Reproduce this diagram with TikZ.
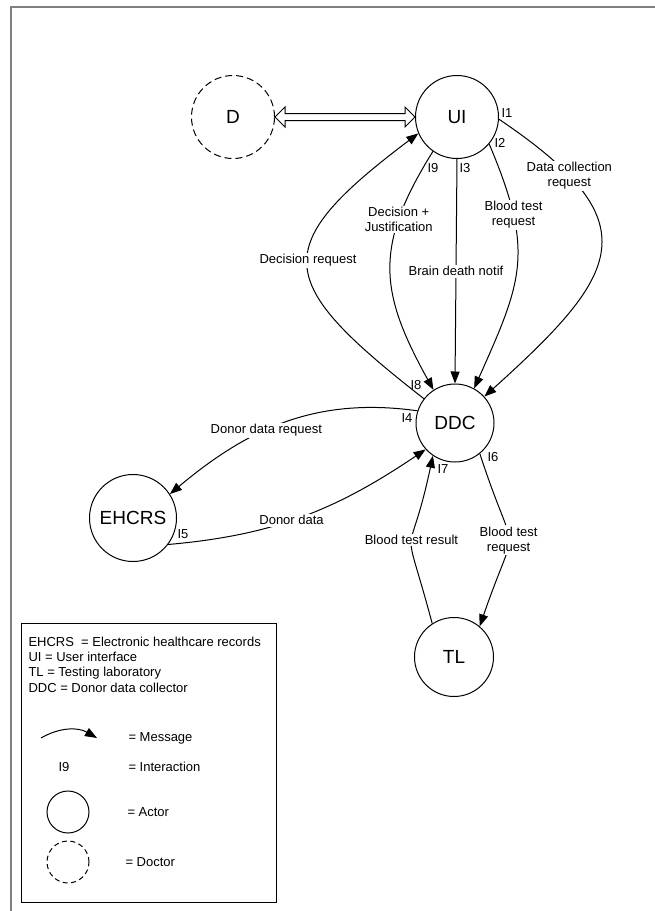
\documentclass[tikz,border=0pt]{standalone}
\usepackage{fontspec}
\setmainfont{Liberation Sans}
\usetikzlibrary{arrows.meta,calc}

\begin{document}
\begin{tikzpicture}[
    x=1pt, y=1pt,
    line width=1pt,
    every node/.append style = {font=\fontsize{13}{15}\selectfont},
    actor/.style = {draw, circle, inner sep=0pt, font=\fontsize{19}{22}\selectfont},
    doctor/.style = {actor, dash pattern=on 7pt off 4pt},
    msg/.style = {-{Triangle[length=12pt,width=9pt]}},
    lbl/.style = {fill=white, inner sep=1.5pt, align=center},
    legtext/.style = {anchor=base west, inner sep=0pt},
  ]
  \begin{scope}
    %%+++++++++++++++++++++++++
    % Variables
    % Head of the double arrow
    \pgfmathsetmacro{\Lhead}{10}
    \pgfmathsetmacro{\Whead}{10}
    \pgfmathsetmacro{\Wshaft}{3.5}
    %%+++++++++++++++++++++++++
    % Drawing
    % Frame
    \useasboundingbox (0,0) rectangle (655,-911);
    \draw[gray, line width=2pt] (11,-911) -- (11,-7) -- (655,-7);
    % Actors
    \node[doctor, minimum size=83pt] (D) at (233,-117) {D};
    \node[actor, minimum size=83pt] (UI) at (457,-117) {UI};
    \node[actor, minimum size=78pt] (DDC) at (455,-423) {DDC};
    \node[actor, minimum size=87pt] (EHCRS) at (133,-518) {EHCRS};
    \node[actor, minimum size=79pt] (TL) at (454,-657) {TL};
    % Doctor <-> UI
    \draw (D.east) -- ++(\Lhead,\Whead) -- ++(0,-\Whead+\Wshaft)
      -- ($(UI.west)+(-\Lhead,\Wshaft)$) -- ++(0,\Whead-\Wshaft) -- (UI.west)
      -- ++(-\Lhead,-\Whead) -- ++(0,\Whead-\Wshaft)
      -- ($(D.east)+(\Lhead,-\Wshaft)$) -- ++(0,-\Whead+\Wshaft) -- cycle;
    % UI -> DDC
    \draw[msg] (UI.-3) to[out=-34, in=42, looseness=1.7]
      node[lbl, pos=0.2] (lDataReq) {Data collection\\request} (DDC.42);
    \draw[msg] (UI.-40) to[out=-67, in=66, looseness=1.23]
      node[lbl, pos=0.26] (lBloodReqA) {Blood test\\request} (DDC.61);
    \draw[msg] (UI.south) -- node[lbl] (lBrain) {Brain death notif} (DDC.north);
    \draw[msg] (UI.-125) to[out=-122, in=119, looseness=1.2]
      node[lbl, pos=0.27] (lDecision) {Decision +\\Justification} (DDC.123);
    % DDC -> UI
    \draw[msg] (DDC.142) to[out=142, in=-143, looseness=1.83]
      node[lbl, pos=0.52] (lDecReq) {Decision request} (UI.-157);
    % DDC <-> EHCRS
    \draw[msg] (DDC.162) to[out=172, in=40]
      node[lbl, pos=0.58] (lDonorReq) {Donor data request} (EHCRS.33);
    \draw[msg] (EHCRS.-37) to[out=5, in=-146]
      node[lbl, pos=0.45] (lDonor) {Donor data} (DDC.-138);
    % DDC <-> TL
    \draw[msg] (DDC.-51) to[out=-72, in=71, looseness=1.8]
      node[lbl, pos=0.5] (lBloodReqB) {Blood test\\request} (TL.50);
    \draw[msg] (TL.123) to[out=105, in=-102, looseness=1.84]
      node[lbl, pos=0.5] (lBloodRes) {Blood test result} (DDC.-124);
    % Interactions
    \node (i1) at (507,-113) {I1};
    \node (i2) at (500,-143) {I2};
    \node (i3) at (465,-168) {I3};
    \node (i9) at (433,-168) {I9};
    \node (i8) at (416,-385) {I8};
    \node (i4) at (407,-418) {I4};
    \node (i5) at (183,-534) {I5};
    \node (i6) at (493,-457) {I6};
    \node (i7) at (443,-469) {I7};
    % Legend
    \node[draw, minimum width=255pt, minimum height=279pt, inner sep=0pt] (legend) at (148.5,-762.5) {};
    \node[legtext] (lgEHCRS) at (28,-646.6) {EHCRS\ \ = Electronic healthcare records};
    \node[legtext] (lgUI) at (28,-661.6) {UI = User interface};
    \node[legtext] (lgTL) at (28,-676.6) {TL = Testing laboratory};
    \node[legtext] (lgDDC) at (28,-692.6) {DDC = Donor data collector};
    \coordinate (msgA) at (41,-738);
    \coordinate (msgB) at (97,-738);
    \draw[msg] (msgA) to[bend left=30] (msgB);
    \node[legtext] (lgMsg) at (128,-741.6) {= Message};
    \node (lgI9) at (64,-767) {I9};
    \node[legtext] (lgInt) at (128,-771.6) {= Interaction};
    \node[actor, minimum size=42pt] (lgActor) at (68,-812) {};
    \node[legtext] (lgAct) at (127,-816.6) {= Actor};
    \node[actor, minimum size=42pt, dash pattern=on 5pt off 3.5pt] (lgDoctor) at (68,-862) {};
    \node[legtext] (lgDoc) at (125,-866.6) {= Doctor};
  \end{scope}
\end{tikzpicture}
\end{document}
